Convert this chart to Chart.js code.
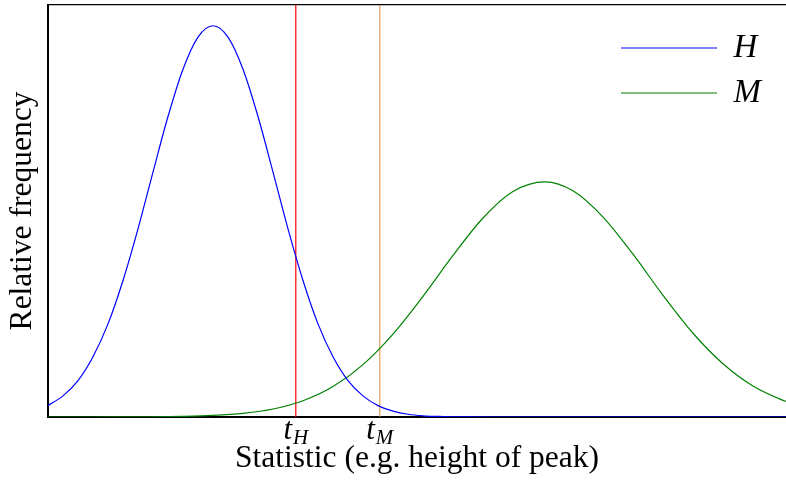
<!DOCTYPE html>
<html>
<head>
<meta charset="utf-8">
<script src="https://cdn.jsdelivr.net/npm/chart.js@4"></script>
<style>
  html, body { margin: 0; padding: 0; background: #ffffff; }
  #c { display: block; }
</style>
</head>
<body>
<canvas id="c" width="786" height="480"></canvas>
<script>
// ---- data ----
const seriesNames = ['H', 'M'];
const hX = [0, 0.25, 0.5, 0.75, 1, 1.25, 1.5, 1.75, 2, 2.25, 2.5, 2.75, 3, 3.25, 3.5, 3.75, 4, 4.25, 4.5, 4.75, 5, 5.25, 5.5, 5.75, 6, 6.25, 6.5, 6.75, 7, 7.5, 8, 9, 10, 11, 12.3];
const hY = [0.029, 0.054, 0.093, 0.154, 0.238, 0.349, 0.481, 0.626, 0.768, 0.889, 0.971, 1.0, 0.971, 0.889, 0.768, 0.626, 0.481, 0.349, 0.238, 0.154, 0.093, 0.054, 0.029, 0.015, 0.007, 0.003, 0.0014, 0.0006, 0.0002, 0, 0, 0, 0, 0, 0];
const mX = [0, 0.25, 0.75, 1.25, 1.75, 2.25, 2.75, 3.25, 3.75, 4.25, 4.75, 5.25, 5.75, 6.25, 6.75, 7.25, 7.75, 8.28, 8.75, 9.25, 9.75, 10.25, 10.75, 11.25, 11.75, 12.25, 12.3];
const mY = [0, 0, 0, 0.0002, 0.0005, 0.0015, 0.0039, 0.0093, 0.0204, 0.0416, 0.0778, 0.1338, 0.2117, 0.3082, 0.4128, 0.5086, 0.5764, 0.601, 0.5780, 0.5110, 0.4160, 0.3110, 0.2140, 0.1360, 0.0790, 0.0425, 0.0400];
const thresholdValues = [4.13, 5.53];
const thresholdSubs = ['H', 'M'];
const xRange = [0, 12.3];
const yRange = [0, 1.053];

const SERIF = '"Liberation Serif", "DejaVu Serif", serif';
const TITLE_SIZE = 31.5;

const pts = (xs, ys) => xs.map((x, i) => ({ x: x, y: ys[i] }));
const vline = (v) => [{ x: v, y: yRange[0] }, { x: v, y: yRange[1] }];

Chart.defaults.color = '#000000';
Chart.defaults.font.family = SERIF;

// tick labels t_H, t_M with subscripts, placed through the x scale
const subTicks = {
  id: 'subTicks',
  afterDraw(chart) {
    const ctx = chart.ctx;
    const xs = chart.scales.x;
    const base = chart.chartArea.bottom;
    ctx.save();
    ctx.fillStyle = '#000000';
    ctx.textBaseline = 'alphabetic';
    ctx.textAlign = 'left';
    thresholdValues.forEach((v, i) => {
      const px = xs.getPixelForValue(v);
      ctx.font = 'italic 31px ' + SERIF;
      const w1 = ctx.measureText('t').width;
      ctx.font = 'italic 21px ' + SERIF;
      const w2 = ctx.measureText(thresholdSubs[i]).width;
      const x0 = px - (w1 + w2 + 1) / 2;
      ctx.font = 'italic 31px ' + SERIF;
      ctx.fillText('t', x0, base + 22);
      ctx.font = 'italic 21px ' + SERIF;
      ctx.fillText(thresholdSubs[i], x0 + w1 + 1, base + 27);
    });
    ctx.restore();
  }
};

// move the legend into the upper-right corner of the plot area
const legendPlace = {
  id: 'legendPlace',
  afterLayout(chart) {
    const lg = chart.legend;
    if (!lg) return;
    const ca = chart.chartArea;
    lg.left = ca.right - 177;
    lg.right = lg.left + lg.width;
    lg.top = ca.top + 14.5;
    lg.bottom = lg.top + lg.height;
  }
};

new Chart(document.getElementById('c'), {
  type: 'line',
  data: {
    datasets: [
      { label: seriesNames[0], data: pts(hX, hY), borderColor: '#0000ff', borderWidth: 1.2, pointRadius: 0, cubicInterpolationMode: 'monotone', fill: false, pointStyle: 'line' },
      { label: seriesNames[1], data: pts(mX, mY), borderColor: '#008000', borderWidth: 1.2, pointRadius: 0, cubicInterpolationMode: 'monotone', fill: false, pointStyle: 'line' },
      { label: 'tH', data: vline(thresholdValues[0]), borderColor: '#ff0000', borderWidth: 1.2, pointRadius: 0, fill: false },
      { label: 'tM', data: vline(thresholdValues[1]), borderColor: '#d98a3a', borderWidth: 1, pointRadius: 0, fill: false }
    ]
  },
  options: {
    responsive: false,
    animation: false,
    devicePixelRatio: 1,
    layout: { padding: { left: 0, right: 0, top: 5, bottom: 0 } },
    plugins: {
      tooltip: { enabled: false },
      legend: {
        display: true,
        position: 'chartArea',
        align: 'start',
        labels: {
          usePointStyle: true,
          pointStyle: 'line',
          pointStyleWidth: 96,
          boxHeight: 33,
          padding: 12,
          color: '#000000',
          font: { family: SERIF, size: 33, style: 'italic' },
          filter: (item) => item.datasetIndex < 2
        }
      }
    },
    scales: {
      x: {
        type: 'linear',
        min: xRange[0],
        max: xRange[1],
        grid: { display: false, drawTicks: false },
        border: { display: true, color: '#000000', width: 2 },
        ticks: { display: false },
        title: {
          display: true,
          text: 'Statistic (e.g. height of peak)',
          color: '#000000',
          font: { family: SERIF, size: TITLE_SIZE },
          padding: { top: 23, bottom: 2.2 }
        }
      },
      xTop: {
        type: 'linear',
        position: 'top',
        min: xRange[0],
        max: xRange[1],
        grid: { display: false, drawTicks: false },
        border: { display: true, color: '#000000', width: 1.2 },
        ticks: { display: false }
      },
      y: {
        type: 'linear',
        min: yRange[0],
        max: yRange[1],
        grid: { display: false, drawTicks: false },
        border: { display: true, color: '#000000', width: 2 },
        ticks: { display: false },
        title: {
          display: true,
          text: 'Relative frequency',
          color: '#000000',
          font: { family: SERIF, size: TITLE_SIZE },
          padding: { top: 3.5, bottom: 6.7 }
        }
      }
    }
  },
  plugins: [subTicks, legendPlace]
});
</script>
</body>
</html>
